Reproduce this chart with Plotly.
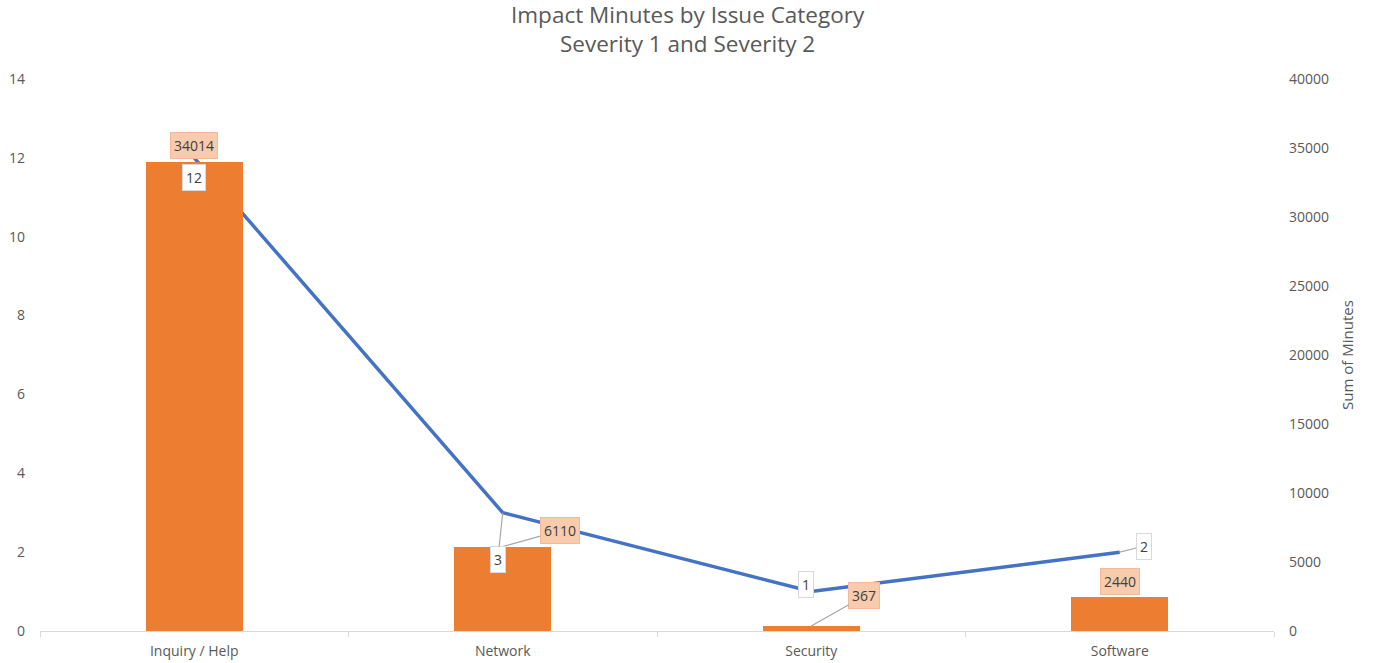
import plotly.graph_objects as go

# Issue categories and their metrics
categories = ["Inquiry / Help", "Network", "Security", "Software"]
sum_minutes = [34014, 6110, 367, 2440]
issue_counts = [12, 3, 1, 2]

BAR_COLOR = "#ED7D31"
LINE_COLOR = "#4472C4"
TEXT_COLOR = "#595959"
FONT = "Open Sans"

fig = go.Figure()

fig.add_trace(go.Bar(
    x=categories, y=sum_minutes, yaxis="y2",
    marker=dict(color=BAR_COLOR, line=dict(width=0)),
    width=0.315, name="Sum of Minutes", hoverinfo="x+y",
))

fig.add_trace(go.Scatter(
    x=categories, y=issue_counts, yaxis="y",
    mode="lines", line=dict(color=LINE_COLOR, width=3.5),
    name="Count", hoverinfo="x+y",
))

# Data label styles
bar_label = dict(bgcolor="#F8CBAD", bordercolor="#F4B99A", borderwidth=1, borderpad=3,
                 font=dict(family=FONT, size=14, color="#404040"))
line_label = dict(bgcolor="#FFFFFF", bordercolor="#D9D9D9", borderwidth=1, borderpad=3,
                  font=dict(family=FONT, size=14, color="#404040"))
leader = dict(showarrow=True, arrowhead=0, arrowwidth=1.2, arrowcolor="#A6A6A6",
              standoff=0, startstandoff=0)

# (offset_x, offset_y, has_leader) per label, in pixels
bar_offsets = [(0, -16, False), (57, -16, True), (53, -30, True), (0, -16, False)]
line_offsets = [(0, 20, False), (-5, 47, True), (-5, -7, False), (24, -6, True)]

annotations = []
for cat, val, (dx, dy, lead) in zip(categories, sum_minutes, bar_offsets):
    a = dict(x=cat, y=val, xref="x", yref="y2", text=str(val), **bar_label)
    if lead:
        a.update(leader, ax=dx, ay=dy)
    else:
        a.update(showarrow=False, xshift=dx, yshift=-dy)
    annotations.append(a)
for cat, val, (dx, dy, lead) in zip(categories, issue_counts, line_offsets):
    a = dict(x=cat, y=val, xref="x", yref="y", text=str(val), **line_label)
    if lead:
        a.update(leader, ax=dx, ay=dy)
    else:
        a.update(showarrow=False, xshift=dx, yshift=-dy)
    annotations.append(a)

# Two-line chart title, centred on the page
annotations.append(dict(
    text="Impact Minutes by Issue Category<br>Severity 1 and Severity 2",
    xref="paper", yref="paper", x=(688 - 40) / 1234, y=1, xanchor="center", yanchor="bottom",
    yshift=18, showarrow=False, align="center",
    font=dict(family=FONT, size=22.5, color=TEXT_COLOR),
))

tick_font = dict(family=FONT, size=14, color=TEXT_COLOR)

fig.update_layout(
    width=1376, height=663,
    margin=dict(l=40, r=102, t=79, b=32),
    paper_bgcolor="white", plot_bgcolor="white",
    showlegend=False,
    font=dict(family=FONT, size=14, color=TEXT_COLOR),
    bargap=0,
    xaxis=dict(
        type="category", showgrid=False, showline=True, linecolor="#D9D9D9", linewidth=1,
        ticks="outside", tickson="boundaries", ticklen=5, tickcolor="#D9D9D9",
        tickfont=tick_font, zeroline=False, ticklabelstandoff=7, automargin=False,
    ),
    yaxis=dict(
        range=[0, 14], dtick=2, showgrid=False, zeroline=False, showline=False,
        tickfont=tick_font, ticklabelstandoff=14, automargin=False,
    ),
    yaxis2=dict(
        range=[0, 40000], dtick=5000, tickformat="d", overlaying="y", side="right",
        showgrid=False, zeroline=False, showline=False,
        tickfont=tick_font, ticklabelstandoff=14, automargin=False,
        title=dict(text="Sum of Minutes", standoff=14,
                   font=dict(family=FONT, size=15, color=TEXT_COLOR)),
    ),
    annotations=annotations,
)

fig.write_html("out.html")
